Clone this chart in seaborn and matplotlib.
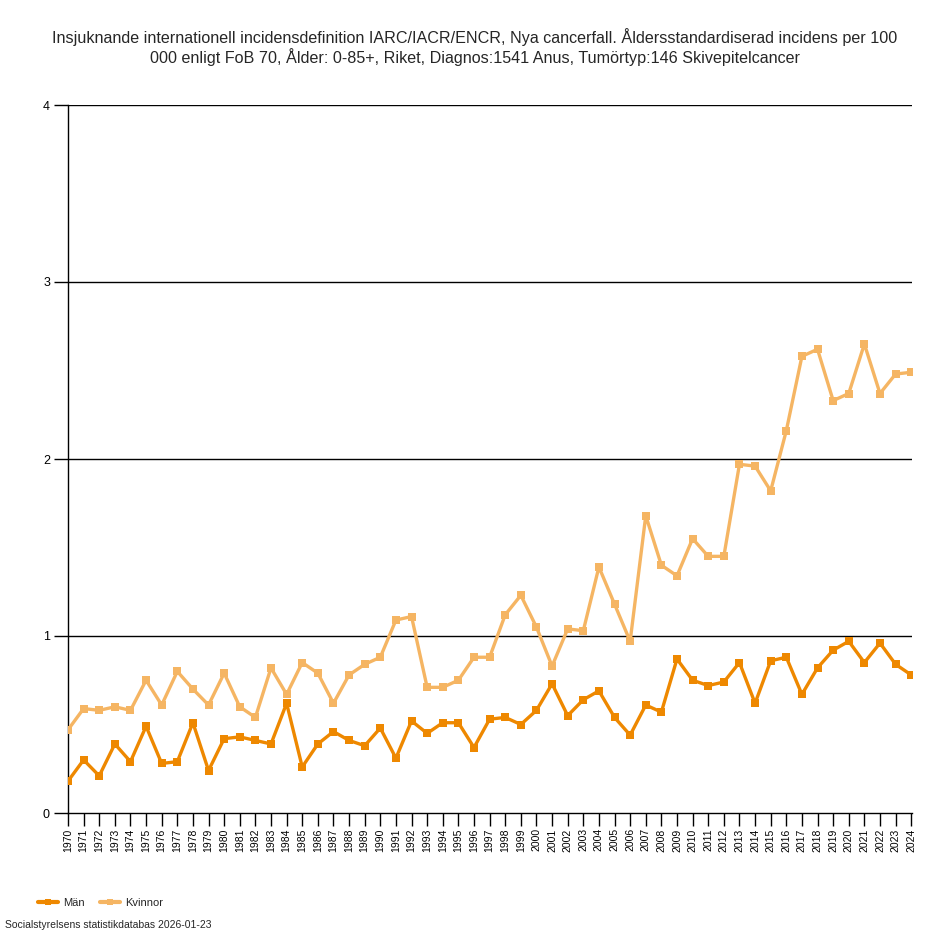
import matplotlib
matplotlib.use("Agg")
import matplotlib.pyplot as plt
import seaborn as sns
import pandas as pd
from matplotlib.lines import Line2D

years = list(range(1970, 2025))
man = [0.18, 0.30, 0.21, 0.39, 0.29, 0.49, 0.28, 0.29, 0.51, 0.24,
       0.42, 0.43, 0.41, 0.39, 0.62, 0.26, 0.39, 0.46, 0.41, 0.38,
       0.48, 0.31, 0.52, 0.45, 0.51, 0.51, 0.37, 0.53, 0.54, 0.50,
       0.58, 0.73, 0.55, 0.64, 0.69, 0.54, 0.44, 0.61, 0.57, 0.87,
       0.75, 0.72, 0.74, 0.85, 0.62, 0.86, 0.88, 0.67, 0.82, 0.92,
       0.97, 0.85, 0.96, 0.84, 0.78]
kvinnor = [0.47, 0.59, 0.58, 0.60, 0.58, 0.75, 0.61, 0.80, 0.70, 0.61,
           0.79, 0.60, 0.54, 0.82, 0.67, 0.85, 0.79, 0.62, 0.78, 0.84,
           0.88, 1.09, 1.11, 0.71, 0.71, 0.75, 0.88, 0.88, 1.12, 1.23,
           1.05, 0.83, 1.04, 1.03, 1.39, 1.18, 0.97, 1.68, 1.40, 1.34,
           1.55, 1.45, 1.45, 1.97, 1.96, 1.82, 2.16, 2.58, 2.62, 2.33,
           2.37, 2.65, 2.37, 2.48, 2.49]
series_names = ["Män", "Kvinnor"]
colors = ["#EE8800", "#F5B563"]
yticks = [0, 1, 2, 3, 4]
title = ("Insjuknande internationell incidensdefinition IARC/IACR/ENCR, Nya cancerfall. "
         "Åldersstandardiserad incidens per 100\n000 enligt FoB 70, Ålder: 0-85+, Riket, "
         "Diagnos:1541 Anus, Tumörtyp:146 Skivepitelcancer")
source = "Socialstyrelsens statistikdatabas 2026-01-23"

df = pd.DataFrame({"År": years * 2,
                   "Värde": man + kvinnor,
                   "Kön": [series_names[0]] * len(years) + [series_names[1]] * len(years)})

sns.set_theme(style="white")
plt.rcParams['font.family'] = ['Liberation Sans', 'DejaVu Sans']

fig = plt.figure(figsize=(9.5, 9.44), dpi=100)
ax = fig.add_axes([68/950, 1 - 813/944, (912-68)/950, (813-105)/944])

sns.lineplot(data=df, x="År", y="Värde", hue="Kön", palette=colors,
             marker="s", markersize=6, markeredgewidth=0, linewidth=2.4,
             ax=ax, legend=False, zorder=3)

ax.set_xlim(1970, 2024.05)
ax.set_ylim(0, 4)
ax.set_yticks(yticks)
ax.set_yticklabels([str(t) for t in yticks], fontsize=9)
ax.set_xticks(years)
ax.set_xticklabels([str(y) for y in years], rotation=90, fontsize=7.5)
ax.set_xlabel("")
ax.set_ylabel("")
for t in yticks[1:]:
    ax.axhline(t, color="black", linewidth=1, zorder=1)
for s in ["top", "right"]:
    ax.spines[s].set_visible(False)
for s in ["left", "bottom"]:
    ax.spines[s].set_color("black")
    ax.spines[s].set_linewidth(1)
ax.tick_params(axis="both", which="both", direction="out", length=9, width=1,
               color="black", labelcolor="black", bottom=True, left=True, pad=2)
ax.tick_params(axis="y", length=10, pad=3)

fig.text(0.5, 1 - 47/944, title, ha="center", va="center", fontsize=11.6, linespacing=1.15)

handles = [Line2D([0], [0], color=c, linewidth=3, marker="s", markersize=5, markeredgewidth=0)
           for c in colors]
leg = fig.legend(handles, series_names, loc="center left",
                 bbox_to_anchor=(28/950, 1 - 903/944), ncol=2, frameon=False,
                 fontsize=8, handlelength=1.8, handletextpad=0.5, columnspacing=1.3)
fig.text(5/950, 1 - 925/944, source, ha="left", va="center", fontsize=7.5)

fig.savefig("out.png", dpi=100)
